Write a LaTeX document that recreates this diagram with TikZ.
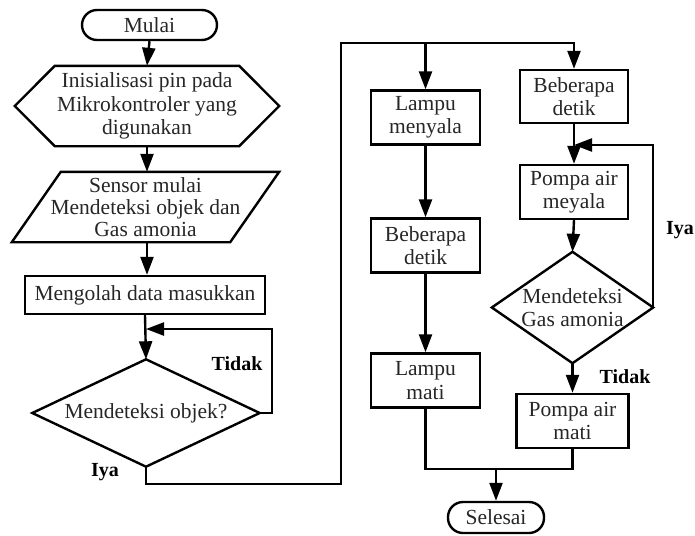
\documentclass[tikz,border=0pt]{standalone}
\usepackage{fontspec}
\setmainfont{Liberation Serif}
\usetikzlibrary{arrows.meta}
\begin{document}
\begin{tikzpicture}[x=1pt,y=-1pt,
  line width=2.4pt,
  every node/.style={font=\fontsize{21.5}{23.5}\selectfont, text=black!85, align=center, inner sep=0pt},
  box/.style={draw, minimum width=#1, minimum height=54},
  shp/.style={draw=none, minimum width=#1},
  arr/.style={-{Triangle[length=18pt,width=13pt]}},
  lbl/.style={font=\fontsize{20}{24}\selectfont\bfseries, text=black}]
\useasboundingbox (0,0) rectangle (695,535);
% left column
\node[draw, rounded corners=15pt, minimum width=135, minimum height=30] (start) at (149.5,25) {Mulai};
\node[shp=262, minimum height=78] (init) at (147,106) {Inisialisasi pin pada\\Mikrokontroler yang\\digunakan};
\draw (init.west) -- ([xshift=40]init.north west) -- ([xshift=-40]init.north east) -- (init.east) -- ([xshift=-40]init.south east) -- ([xshift=40]init.south west) -- cycle;
\node[shp=265, minimum height=68, font=\fontsize{21.5}{22}\selectfont] (sensor) at (145.5,207) {Sensor mulai\\Mendeteksi objek dan\\Gas amonia};
\draw ([xshift=49]sensor.north west) -- (sensor.north east) -- ([xshift=-49]sensor.south east) -- (sensor.south west) -- cycle;
\node[draw, minimum width=240, minimum height=38] (olah) at (145,295) {Mengolah data masukkan};
\node[shp=225, minimum height=105] (dec1) at (146,413) {Mendeteksi objek?};
\draw (dec1.west) -- (dec1.north) -- (dec1.east) -- (dec1.south) -- cycle;
% middle column
\node[box=109] (lampon) at (425.5,117.5) {Lampu\\menyala};
\node[box=109] (beb1) at (425.5,245.5) {Beberapa\\detik};
\node[box=109] (lampoff) at (425.5,380.5) {Lampu\\mati};
% right column
\node[box=108, minimum height=53] (beb2) at (574,96.5) {Beberapa\\detik};
\node[box=108] (pompon) at (574,192) {Pompa air\\meyala};
\node[shp=159, minimum height=109] (dec2) at (572.5,307.5) {Mendeteksi\\Gas amonia};
\draw (dec2.west) -- (dec2.north) -- (dec2.east) -- (dec2.south) -- cycle;
\node[box=112] (pompoff) at (572.5,421) {Pompa air\\mati};
\node[draw, rounded corners=15pt, minimum width=96, minimum height=31] (stop) at (496,517.5) {Selesai};
% coordinates
\coordinate (j1) at (146,329);
\coordinate (cA) at (341,484);
\coordinate (top) at (574,43);
\coordinate (j2) at (574,145);
\coordinate (m) at (496,469);
% connectors
\draw[arr] (start.south) -- (init.north);
\draw[arr] (init.south) -- (init.south |- sensor.north);
\draw[arr] (init.south |- sensor.south) -- (init.south |- olah.north);
\draw[arr] (olah.south) -- (dec1.north);
\draw[arr] (dec1.east) -- ++(12,0) |- (j1);
\draw[arr] (dec1.south) |- (cA) |- (top) -- (beb2.north);
\draw[arr] (lampon.north |- top) -- (lampon.north);
\draw[arr] (lampon.south) -- (beb1.north);
\draw[arr] (beb1.south) -- (lampoff.north);
\draw[arr] (beb2.south) -- (pompon.north);
\draw[arr] (pompon.south) -- (dec2.north);
\draw[arr] (dec2.east) |- (j2);
\draw[arr] (dec2.south) -- (pompoff.north);
\draw (lampoff.south) |- (pompoff.south |- m) -- (pompoff.south);
\draw[arr] (m) -- (stop.north);
% labels
\node[lbl] (t1) at (237,364) {Tidak};
\node[lbl] (i1) at (105,472) {Iya};
\node[lbl] (i2) at (680,230) {Iya};
\node[lbl] (t2) at (625,377) {Tidak};
\end{tikzpicture}
\end{document}
